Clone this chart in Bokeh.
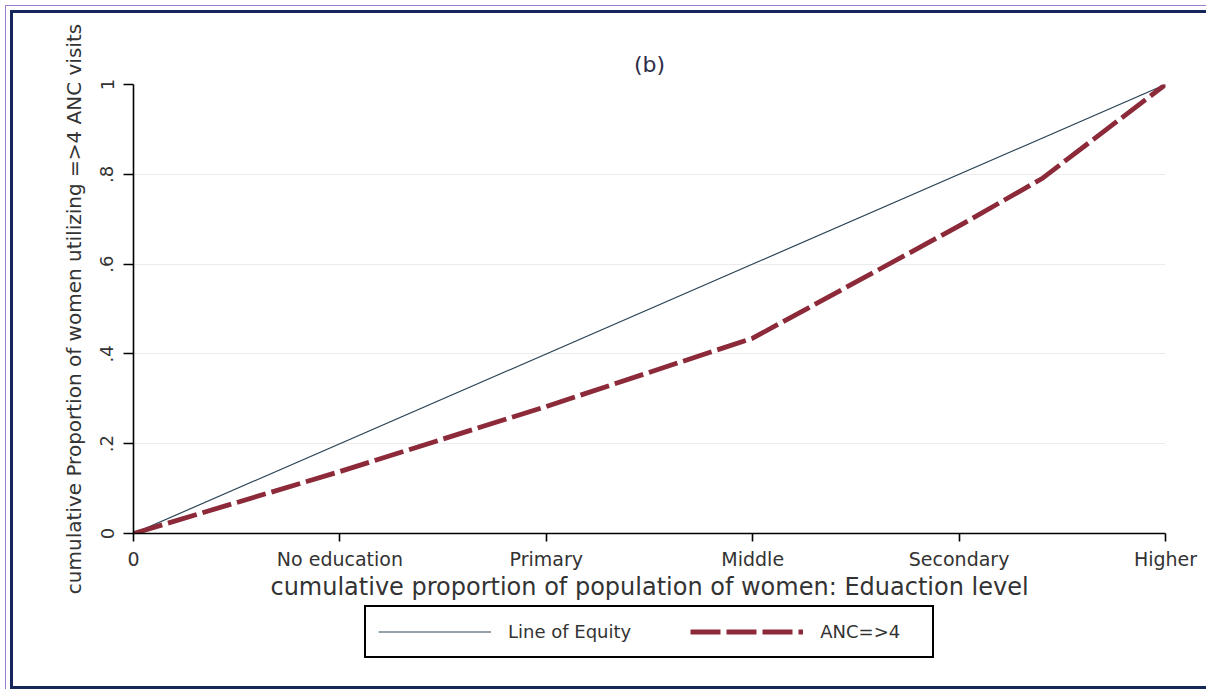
from bokeh.plotting import figure
from bokeh.layouts import column
from bokeh.models import FixedTicker, Legend, LegendItem, ColumnDataSource
from bokeh.embed import file_html
from bokeh.resources import INLINE

# Cumulative share of women ranked by education level (x) against the
# cumulative share of women with four or more antenatal care visits (y)
pop_share = [0.0, 0.2, 0.4, 0.6, 0.8, 0.88, 1.0]
anc_share = [0.0, 0.138, 0.283, 0.435, 0.685, 0.79, 1.0]

# Line of equity (perfect equality)
equity_x = [0.0, 1.0]
equity_y = [0.0, 1.0]

x_ticks = [0.0, 0.2, 0.4, 0.6, 0.8, 1.0]
x_tick_labels = ["0", "No education", "Primary", "Middle", "Secondary", "Higher"]
y_ticks = [0.0, 0.2, 0.4, 0.6, 0.8, 1.0]
y_tick_labels = ["0", ".2", ".4", ".6", ".8", "1"]
series_names = ["Line of Equity", "ANC=>4"]

FONT = "DejaVu Sans"
TEXT = "#333333"
EQ_STYLE = dict(line_color="#2c4454", line_width=1.2)
ANC_STYLE = dict(line_color="#8c2a3a", line_width=4.8, line_dash="30 6", line_cap="butt")
BORDERS = dict(min_border_left=120, min_border_right=41)

p = figure(
    frame_width=1032, frame_height=449,
    x_range=(0, 1), y_range=(0, 1),
    output_backend="svg", toolbar_location=None,
    min_border_top=71, min_border_bottom=64, **BORDERS,
    title="(b)",
)
p.background_fill_color = "white"
p.border_fill_color = "white"
p.outline_line_color = None

p.title.align = "center"
p.title.text_font = FONT
p.title.text_font_size = "22px"
p.title.text_font_style = "normal"
p.title.text_color = "#2d2d48"
p.title.standoff = 16

src = ColumnDataSource(dict(x=pop_share, y=anc_share))
eq = ColumnDataSource(dict(x=equity_x, y=equity_y))

p.line("x", "y", source=eq, **EQ_STYLE)
p.line("x", "y", source=src, **ANC_STYLE)

# axes
p.xaxis.ticker = FixedTicker(ticks=x_ticks)
p.xaxis.major_label_overrides = dict(zip(x_ticks, x_tick_labels))
p.yaxis.ticker = FixedTicker(ticks=y_ticks)
p.yaxis.major_label_overrides = dict(zip(y_ticks, y_tick_labels))
p.yaxis.major_label_orientation = "vertical"

for ax in (p.xaxis[0], p.yaxis[0]):
    ax.axis_line_color = "black"
    ax.axis_line_width = 1.6
    ax.major_tick_line_color = "black"
    ax.major_tick_line_width = 1.6
    ax.major_tick_in = 0
    ax.minor_tick_line_color = None
    ax.major_label_text_font = FONT
    ax.major_label_text_color = TEXT
    ax.axis_label_text_font = FONT
    ax.axis_label_text_font_style = "normal"
    ax.axis_label_text_color = TEXT

p.xaxis.major_tick_out = 8
p.xaxis.major_label_standoff = 6
p.xaxis.major_label_text_font_size = "19px"
p.xaxis.axis_label = "cumulative proportion of population of women: Eduaction level"
p.xaxis.axis_label_text_font_size = "24px"
p.xaxis.axis_label_standoff = 0

p.yaxis.major_tick_out = 10
p.yaxis.major_label_standoff = 10
p.yaxis.major_label_text_font_size = "18px"
p.yaxis.axis_label = "cumulative Proportion of women utilizing =>4 ANC visits"
p.yaxis.axis_label_text_font_size = "20px"
p.yaxis.axis_label_standoff = 12

p.xgrid.grid_line_color = None
p.ygrid.ticker = FixedTicker(ticks=y_ticks[1:])
p.ygrid.grid_line_color = "#ebebeb"
p.ygrid.grid_line_width = 1

# legend strip beneath the chart; its frame lines up with the chart frame and
# its view window lies away from the data, so only the legend keys show
lf = figure(
    frame_width=1032, frame_height=83,
    x_range=(10, 11), y_range=(10, 11),
    output_backend="svg", toolbar_location=None,
    min_border_top=0, min_border_bottom=0, **BORDERS,
    x_axis_location=None, y_axis_location=None,
)
lf.outline_line_color = None
lf.background_fill_color = "white"
lf.border_fill_color = "white"
lf.xgrid.grid_line_color = None
lf.ygrid.grid_line_color = None
k_eq = lf.line("x", "y", source=eq, **EQ_STYLE)
k_anc = lf.line("x", "y", source=src, **ANC_STYLE)

legend = Legend(
    items=[LegendItem(label=series_names[0], renderers=[k_eq]),
           LegendItem(label=series_names[1], renderers=[k_anc])],
    orientation="horizontal",
    location=(231, 28),
    border_line_color="black",
    border_line_alpha=1.0,
    border_line_width=2,
    background_fill_color="white",
    background_fill_alpha=1.0,
    padding=12,
    spacing=59,
    glyph_width=113,
    glyph_height=25,
    label_standoff=17,
    label_width=100,
    label_text_font=FONT,
    label_text_font_size="18px",
    label_text_color=TEXT,
    margin=0,
)
lf.add_layout(legend)

page = column(p, lf, spacing=0)
page.margin = (10, 0, 0, 10)
page.styles = {
    "border-left": "3px solid #14265a",
    "border-top": "3px solid #14265a",
    "border-bottom": "3px solid #14265a",
    "outline": "1px solid #9b7fcc",
    "outline-offset": "4px",
    "background": "white",
}

open("out.html", "w").write(file_html(page, INLINE))
